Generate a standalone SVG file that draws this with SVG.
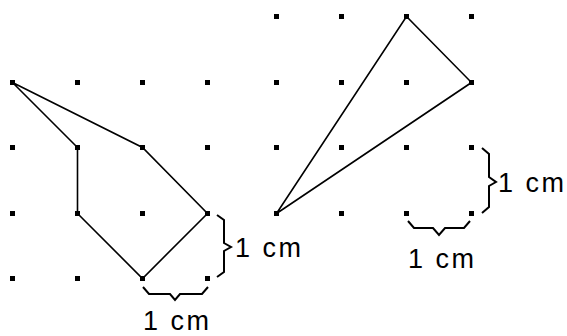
<svg xmlns="http://www.w3.org/2000/svg" width="567" height="336" viewBox="0 0 567 336">
<style>
.dot{fill:#000;shape-rendering:crispEdges}
.edge{fill:none;stroke:#000;stroke-width:1.6;stroke-linejoin:miter}
.brace{fill:none;stroke:#000;stroke-width:2;stroke-linejoin:miter}
.lbl{font-family:"Liberation Sans",Arial,sans-serif;font-size:27px;fill:#000;letter-spacing:2.5px}
</style>
<defs>
<rect id="d" x="-2.5" y="-2.5" width="5" height="5" class="dot"/>
</defs>
<rect width="567" height="336" fill="#fff"/>
<g id="grid-left">
<use href="#d" x="12.5" y="82.5"/><use href="#d" x="77.5" y="82.5"/><use href="#d" x="142.5" y="82.5"/><use href="#d" x="207.5" y="82.5"/>
<use href="#d" x="12.5" y="147.5"/><use href="#d" x="77.5" y="147.5"/><use href="#d" x="142.5" y="147.5"/><use href="#d" x="207.5" y="147.5"/>
<use href="#d" x="12.5" y="213.5"/><use href="#d" x="77.5" y="213.5"/><use href="#d" x="142.5" y="213.5"/><use href="#d" x="207.5" y="213.5"/>
<use href="#d" x="12.5" y="278.5"/><use href="#d" x="77.5" y="278.5"/><use href="#d" x="142.5" y="278.5"/><use href="#d" x="207.5" y="278.5"/>
</g>
<g id="grid-right">
<use href="#d" x="276.5" y="16.5"/><use href="#d" x="341.5" y="16.5"/><use href="#d" x="406.5" y="16.5"/><use href="#d" x="471.5" y="16.5"/>
<use href="#d" x="276.5" y="82.5"/><use href="#d" x="341.5" y="82.5"/><use href="#d" x="406.5" y="82.5"/><use href="#d" x="471.5" y="82.5"/>
<use href="#d" x="276.5" y="147.5"/><use href="#d" x="341.5" y="147.5"/><use href="#d" x="406.5" y="147.5"/><use href="#d" x="471.5" y="147.5"/>
<use href="#d" x="276.5" y="213.5"/><use href="#d" x="341.5" y="213.5"/><use href="#d" x="406.5" y="213.5"/><use href="#d" x="471.5" y="213.5"/>
</g>
<g id="shape-left">
<polygon class="edge" points="12.5,82.5 77.5,147.5 77.5,213.5 142.5,278.5 207.5,213.5 142.5,147.5"/>
</g>
<g id="shape-right">
<polygon class="edge" points="276.5,213.5 406.5,16.5 471.5,82.5"/>
</g>
<g id="scale-left">
<path class="brace" d="M217,215 L224,220 L224,243 L231,247 L224,251 L224,272 L217,277"/>
<text class="lbl" x="235" y="257">1 cm</text>
<path class="brace" d="M143,287 L149,294 L170,294 L175,300 L180,294 L202,294 L208,287"/>
<text class="lbl" x="143" y="330">1 cm</text>
</g>
<g id="scale-right">
<path class="brace" d="M482,148 L489,154 L489,177 L496,182 L489,186 L489,207 L482,213"/>
<text class="lbl" x="498" y="192">1 cm</text>
<path class="brace" d="M408,221 L414,228 L433,228 L439,235 L445,228 L464,228 L470,221"/>
<text class="lbl" x="408" y="268">1 cm</text>
</g>
</svg>
